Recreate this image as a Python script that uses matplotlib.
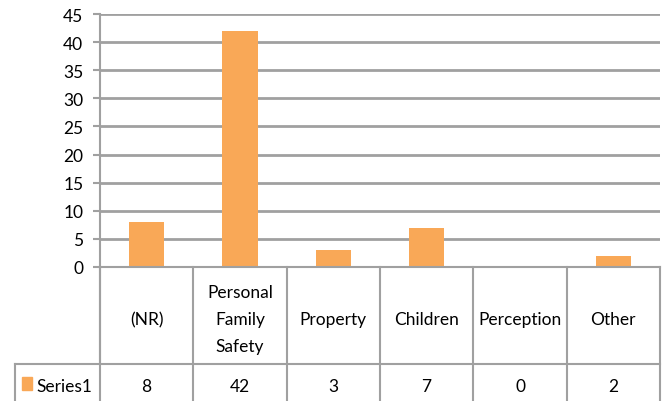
import matplotlib.pyplot as plt
from matplotlib.lines import Line2D
from matplotlib.patches import Rectangle

categories = ['(NR)', 'Personal\nFamily\nSafety', 'Property', 'Children', 'Perception', 'Other']
values = [8, 42, 3, 7, 0, 2]
series_name = 'Series1'

bar_color = '#F9A857'
grid_color = '#A0A0A0'
plt.rcParams['font.family'] = ['Lato', 'DejaVu Sans']

W, H = 667, 402
fig = plt.figure(figsize=(W / 100, H / 100), dpi=100)

# plot area in pixel coordinates
left, right, top, zero_y = 100, 660, 15, 268
header_bottom, table_bottom = 365, 402
ax = fig.add_axes([left / W, 1 - zero_y / H, (right - left) / W, (zero_y - top) / H])

n = len(categories)
x = range(n)
ax.bar(x, values, width=0.38, color=bar_color, zorder=3)
ax.set_xlim(-0.5, n - 0.5)
ax.set_ylim(0, 45)
ax.set_yticks(range(0, 46, 5))
ax.yaxis.grid(True, color=grid_color, linewidth=2)
ax.set_axisbelow(True)
ax.tick_params(axis='y', length=5, width=1.5, color=grid_color, labelsize=12.5, pad=7)
ax.tick_params(axis='x', bottom=False, labelbottom=False)
for s in ['top', 'right', 'bottom']:
    ax.spines[s].set_visible(False)
ax.spines['left'].set_color(grid_color)
ax.spines['left'].set_linewidth(1.5)

# data table below the axes, drawn in figure pixel coords
def fx(px):
    return px / W

def fy(py):
    return 1 - py / H

lw = 1.5
col_w = (right - left) / n
lines = []
lines.append(((left, right), (zero_y, zero_y)))
lines.append(((15, right), (header_bottom, header_bottom)))
lines.append(((left, left), (zero_y, header_bottom)))
lines.append(((15, 15), (header_bottom, table_bottom)))
for i in range(n + 1):
    xp = left + i * col_w
    lines.append(((xp, xp), (zero_y, table_bottom)))
for xs, ys in lines:
    fig.add_artist(Line2D([fx(v) for v in xs], [fy(v) for v in ys],
                          color=grid_color, linewidth=lw))

for i, (cat, val) in enumerate(zip(categories, values)):
    cx = left + (i + 0.5) * col_w
    fig.text(fx(cx), fy(320), cat, ha='center', va='center',
             fontsize=12.5, linespacing=1.85)
    fig.text(fx(cx), fy(387), str(val), ha='center', va='center', fontsize=12.5)

# legend key + series name
fig.add_artist(Rectangle((fx(22), fy(391)), 10 / W, 13 / H, color=bar_color,
                         transform=fig.transFigure))
fig.text(fx(36), fy(387), series_name, ha='left', va='center', fontsize=12.5)

fig.savefig('out.png', dpi=100)
